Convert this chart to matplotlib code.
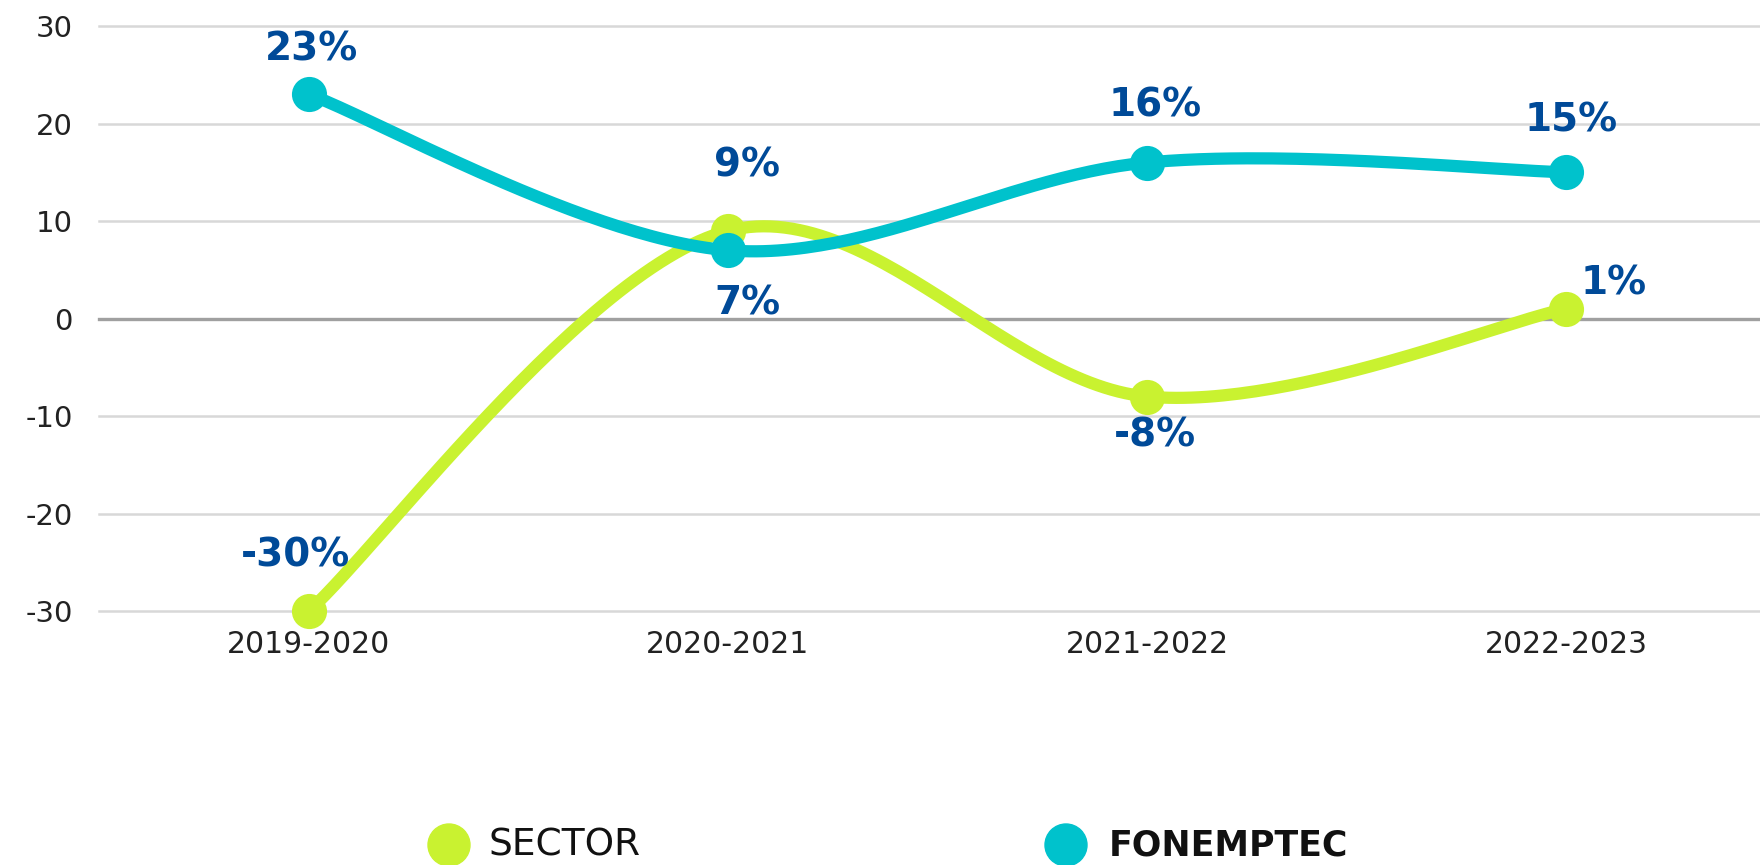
import numpy as np
import matplotlib
matplotlib.use("Agg")
import matplotlib.pyplot as plt

# ---- Data ----
periods = ["2019-2020", "2020-2021", "2021-2022", "2022-2023"]
sector = [-30, 9, -8, 1]
fonemptec = [23, 7, 16, 15]
sector_labels = ["-30%", "9%", "-8%", "1%"]
fonemptec_labels = ["23%", "7%", "16%", "15%"]
y_ticks = [-30, -20, -10, 0, 10, 20, 30]

GREEN = "#c9f230"
TEAL = "#00c2cc"
LABEL_BLUE = "#004a98"


def smooth_curve(xs, ys, steps=60):
    """Catmull-Rom style bezier smoothing (like spreadsheet 'smoothed line')."""
    pts = np.column_stack([xs, ys]).astype(float)
    ext = np.vstack([pts[0], pts, pts[-1]])
    out = []
    t = np.linspace(0, 1, steps)[:, None]
    for i in range(len(pts) - 1):
        p0, p1, p2, p3 = ext[i], ext[i + 1], ext[i + 2], ext[i + 3]
        c1 = p1 + (p2 - p0) / 6
        c2 = p2 - (p3 - p1) / 6
        seg = ((1 - t) ** 3) * p1 + 3 * t * (1 - t) ** 2 * c1 + 3 * t ** 2 * (1 - t) * c2 + t ** 3 * p2
        out.append(seg if i == 0 else seg[1:])
    seg = np.vstack(out)
    return seg[:, 0], seg[:, 1]


fig = plt.figure(figsize=(17.6, 8.65), dpi=100)
ax = fig.add_axes([0.05625, 0.2936, 0.94375, 0.6763])

x = np.arange(len(periods))

# grid lines
for v in y_ticks:
    if v == 0:
        ax.axhline(v, color="#a0a0a0", linewidth=2.4, zorder=1, clip_on=False)
    else:
        ax.axhline(v, color="#d8d8d8", linewidth=1.8, zorder=1, clip_on=False)

# smoothed lines + markers
sx, sy = smooth_curve(x, sector)
ax.plot(sx, sy, color=GREEN, linewidth=8.8, solid_capstyle="round", zorder=3, clip_on=False)
ax.scatter(x, sector, s=640, color=GREEN, zorder=4, clip_on=False, linewidths=0)

fx, fy = smooth_curve(x, fonemptec)
ax.plot(fx, fy, color=TEAL, linewidth=8.8, solid_capstyle="round", zorder=5, clip_on=False)
ax.scatter(x, fonemptec, s=640, color=TEAL, zorder=6, clip_on=False, linewidths=0)

# data labels (offsets in points)
label_font = dict(fontsize=28, fontweight="bold", color=LABEL_BLUE, family="DejaVu Sans",
                  ha="center", va="center", zorder=10, annotation_clip=False)
sector_offsets = [(-10, 40), (14, 47), (6, -28), (34, 18)]
fonemptec_offsets = [(2, 32), (14, -38), (6, 41), (4, 37)]
for xi, yi, lab, off in zip(x, sector, sector_labels, sector_offsets):
    ax.annotate(lab, (xi, yi), xytext=off, textcoords="offset points", **label_font)
for xi, yi, lab, off in zip(x, fonemptec, fonemptec_labels, fonemptec_offsets):
    ax.annotate(lab, (xi, yi), xytext=off, textcoords="offset points", **label_font)

# axes formatting
ax.set_xlim(-0.501, 3.463)
ax.set_ylim(-30, 30)
ax.set_xticks(x)
ax.set_xticklabels(periods, fontsize=21.5, color="#222222", family="DejaVu Sans")
ax.set_yticks(y_ticks)
ax.set_yticklabels([str(v) for v in y_ticks], fontsize=21, color="#222222", family="DejaVu Sans")
ax.tick_params(axis="both", length=0)
ax.tick_params(axis="x", pad=14)
ax.tick_params(axis="y", pad=19)
for sp in ax.spines.values():
    sp.set_visible(False)

# legend drawn by hand at the bottom
fig.patches.append(matplotlib.patches.Ellipse((449 / 1760, 1 - 845 / 865), 42 / 1760, 42 / 865,
                                              transform=fig.transFigure, color=GREEN))
fig.text(488 / 1760, 1 - 846 / 865, "SECTOR", fontsize=27, color="#111111",
         family="DejaVu Sans", va="center", ha="left")
fig.patches.append(matplotlib.patches.Ellipse((1066 / 1760, 1 - 845 / 865), 42 / 1760, 42 / 865,
                                              transform=fig.transFigure, color=TEAL))
fig.text(1109 / 1760, 1 - 846 / 865, "FONEMPTEC", fontsize=25, fontweight="bold", color="#111111",
         family="DejaVu Sans", va="center", ha="left")

plt.savefig("out.png", dpi=100)
plt.close(fig)
